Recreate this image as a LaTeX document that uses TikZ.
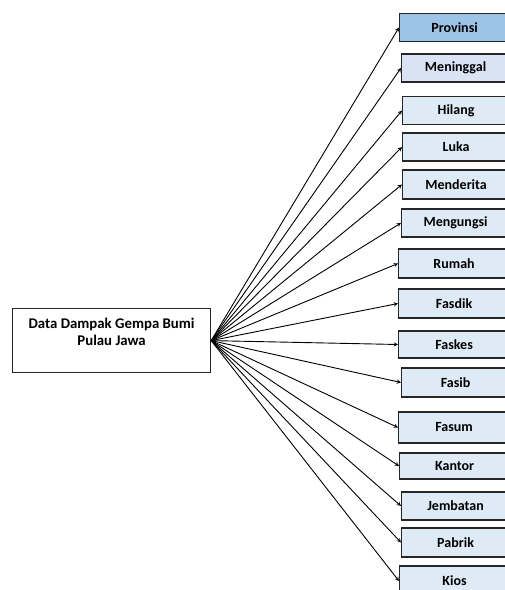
\documentclass[tikz,border=0pt]{standalone}
\usepackage{fontspec}
\setmainfont{Carlito}
\definecolor{biruTua}{HTML}{9DC3E6}
\definecolor{biruLembut}{HTML}{DAE3F3}
\definecolor{biruMuda}{HTML}{DEEBF7}
\begin{document}
\begin{tikzpicture}[x=1pt,y=-1pt,>=stealth,line width=.9pt,
    font=\bfseries\fontsize{14}{17}\selectfont,
    kotak/.style={draw=black!85,line width=1.2pt,fill=biruMuda,anchor=west,
      minimum height=28pt,inner sep=0pt}]
  \useasboundingbox (0,0) rectangle (505,590);
  \node[draw=black!85,line width=1.2pt,minimum width=198pt,minimum height=64pt,
    align=center,anchor=north west,inner sep=0pt,
    font=\bfseries\fontsize{14.8}{17}\selectfont] (data) at (12,308)
    {Data Dampak Gempa Bumi\\Pulau Jawa\\~};
  \node[kotak,fill=biruTua,minimum width=110pt] (prov) at (399,27.5) {Provinsi};
  \node[kotak,fill=biruLembut,minimum width=108pt] (mgl) at (401,68) {Meninggal};
  \node[kotak,minimum width=107pt] (hil) at (402,110.5) {Hilang};
  \node[kotak,minimum width=107pt] (luka) at (402,147) {Luka};
  \node[kotak,minimum width=107pt,minimum height=29pt] (mdr) at (402,184.5) {Menderita};
  \node[kotak,minimum width=108pt] (mgs) at (401,223) {Mengungsi};
  \node[kotak,minimum width=111pt,minimum height=29pt] (rmh) at (398,263.5) {Rumah};
  \node[kotak,minimum width=111pt,minimum height=29pt] (fsdk) at (398,303.5) {Fasdik};
  \node[kotak,minimum width=111pt,minimum height=27pt] (fskes) at (398,344.5) {Faskes};
  \node[kotak,minimum width=108pt,minimum height=29pt] (fsb) at (401,382.5) {Fasib};
  \node[kotak,minimum width=111pt,minimum height=31pt] (fsm) at (398,427.5) {Fasum};
  \node[kotak,minimum width=110pt,minimum height=26pt] (ktr) at (399,466) {Kantor};
  \node[kotak,minimum width=108pt] (jbt) at (401,506) {Jembatan};
  \node[kotak,minimum width=108pt,minimum height=29pt] (pbr) at (401,542.5) {Pabrik};
  \node[kotak,minimum width=110pt,minimum height=30pt] (kios) at (399,581) {Kios};
  \draw[->] (data.east) -- (prov.west);
  \draw[->] (data.east) -- (mgl.west);
  \draw[->] (data.east) -- (hil.west);
  \draw[->] (data.east) -- (luka.west);
  \draw[->] (data.east) -- (mdr.west);
  \draw[->] (data.east) -- (mgs.west);
  \draw[->] (data.east) -- (rmh.west);
  \draw[->] (data.east) -- (fsdk.west);
  \draw[->] (data.east) -- (fskes.west);
  \draw[->] (data.east) -- (fsb.west);
  \draw[->] (data.east) -- (fsm.west);
  \draw[->] (data.east) -- (ktr.west);
  \draw[->] (data.east) -- (jbt.west);
  \draw[->] (data.east) -- (pbr.west);
  \draw[->] (data.east) -- (kios.west);
\end{tikzpicture}
\end{document}
